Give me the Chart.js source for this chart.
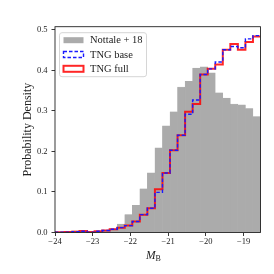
<!DOCTYPE html>
<html>
<head>
<meta charset="utf-8">
<script src="https://cdn.jsdelivr.net/npm/chart.js@4.4.1/dist/chart.umd.min.js"></script>
<style>
  html, body { margin: 0; padding: 0; background: #fff; }
  #wrap { width: 274px; height: 274px; }
</style>
</head>
<body>
<div id="wrap"><canvas id="histChart"></canvas></div>
<script>
// histogram bins (absolute B magnitude)
const binStart = -24.15;
const binWidth = 0.2;

const nottale = [0.001, 0.001, 0.002, 0.004, 0.003, 0.001, 0.003, 0.006, 0.009,
  0.021, 0.044, 0.067, 0.108, 0.147, 0.209,
  0.263, 0.298, 0.359, 0.373, 0.406, 0.409, 0.394, 0.345, 0.332, 0.317, 0.315, 0.306, 0.286];

const tngBase = [0.0005, 0.0005, 0.001, 0.002, 0.003, 0.001, 0.003, 0.005, 0.008,
  0.012, 0.017, 0.027, 0.044, 0.060, 0.099, 0.147, 0.203, 0.240,
  0.292, 0.327, 0.390, 0.404, 0.421, 0.451, 0.459, 0.456, 0.478, 0.486];

const tngFull = [0.0005, 0.0005, 0.001, 0.002, 0.004, 0.001, 0.003, 0.005, 0.008,
  0.012, 0.017, 0.027, 0.044, 0.060, 0.107, 0.147, 0.203, 0.240,
  0.298, 0.317, 0.390, 0.404, 0.415, 0.451, 0.465, 0.451, 0.470, 0.484];

const xTicks = [-24, -23, -22, -21, -20, -19];
const yTicks = [0.0, 0.1, 0.2, 0.3, 0.4, 0.5];

const serif = "'Liberation Serif', 'DejaVu Serif', serif";

// corner points of a step outline for the line histograms
function stepPoints(values) {
  const pts = [{ x: binStart, y: 0 }];
  values.forEach((v, i) => {
    const x0 = binStart + i * binWidth;
    pts.push({ x: x0, y: v }, { x: x0 + binWidth, y: v });
  });
  pts.push({ x: binStart + values.length * binWidth, y: 0 });
  return pts;
}

// bin centres for the filled histogram
function barPoints(values) {
  return values.map((v, i) => ({ x: binStart + (i + 0.5) * binWidth, y: v }));
}

const framePlugin = {
  id: "frame",
  afterDatasetsDraw(chart) {
    const { ctx, chartArea: a } = chart;
    ctx.save();
    ctx.strokeStyle = "#222";
    ctx.lineWidth = 0.9;
    ctx.strokeRect(a.left, a.top, a.right - a.left, a.bottom - a.top);
    ctx.restore();
  },
};

const legendPlugin = {
  id: "boxLegend",
  afterDatasetsDraw(chart) {
    const { ctx, chartArea: a } = chart;
    const x = a.left + 4.5, y = a.top + 6, w = 87, h = 44;
    ctx.save();
    ctx.beginPath();
    ctx.roundRect(x, y, w, h, 2.5);
    ctx.fillStyle = "rgba(255,255,255,0.85)";
    ctx.fill();
    ctx.strokeStyle = "#d6d6d6";
    ctx.lineWidth = 1;
    ctx.stroke();

    ctx.font = "10.5px " + serif;
    ctx.textBaseline = "middle";
    ctx.fillStyle = "#222";
    chart.data.datasets.forEach((ds, i) => {
      const cy = y + 7.5 + i * 14.3;
      const px = x + 4, pw = 20, ph = 6;
      ctx.save();
      if (ds.type === "bar") {
        ctx.fillStyle = ds.backgroundColor;
        ctx.fillRect(px, cy - ph / 2, pw, ph);
      } else {
        ctx.strokeStyle = ds.borderColor;
        ctx.lineWidth = ds.borderWidth;
        ctx.setLineDash(ds.borderDash || []);
        ctx.strokeRect(px, cy - ph / 2, pw, ph);
      }
      ctx.restore();
      ctx.fillText(ds.label, x + 30.5, cy + 0.5);
    });
    ctx.restore();
  },
};

const xLabelPlugin = {
  id: "xLabel",
  afterDraw(chart) {
    const { ctx } = chart;
    ctx.save();
    ctx.fillStyle = "#222";
    ctx.textBaseline = "alphabetic";
    ctx.font = "italic 11.5px " + serif;
    const mw = ctx.measureText("M").width;
    ctx.font = "8px " + serif;
    const bw = ctx.measureText("B").width;
    const x0 = 153.5 - (mw + bw) / 2;
    ctx.font = "italic 11.5px " + serif;
    ctx.fillText("M", x0, 259);
    ctx.font = "8px " + serif;
    ctx.fillText("B", x0 + mw, 261);
    ctx.restore();
  },
};

new Chart(document.getElementById("histChart"), {
  type: "line",
  data: {
    datasets: [
      {
        type: "bar",
        label: "Nottale + 18",
        data: barPoints(nottale),
        backgroundColor: "#ababab",
        borderColor: "#ababab",
        borderWidth: 0.4,
        borderSkipped: "bottom",
        barPercentage: 1,
        categoryPercentage: 1,
        order: 3,
      },
      {
        label: "TNG base",
        data: stepPoints(tngBase),
        borderColor: "#1a1aff",
        borderWidth: 1.4,
        borderDash: [3.5, 2],
        fill: false,
        pointRadius: 0,
        order: 1,
      },
      {
        label: "TNG full",
        data: stepPoints(tngFull),
        borderColor: "rgba(255,0,0,0.85)",
        borderWidth: 2,
        fill: false,
        pointRadius: 0,
        order: 2,
      },
    ],
  },
  options: {
    responsive: true,
    maintainAspectRatio: false,
    animation: false,
    layout: { padding: { left: 0, right: 13.5, top: 26.7, bottom: 0 } },
    plugins: {
      legend: { display: false },
      tooltip: { enabled: false },
    },
    scales: {
      x: {
        type: "linear",
        min: -24,
        max: -18.55,
        offset: false,
        afterBuildTicks: (scale) => { scale.ticks = xTicks.map((v) => ({ value: v })); },
        afterFit: (scale) => { scale.height = 41.5; },
        border: { display: false },
        grid: { drawOnChartArea: false, drawTicks: true, tickLength: 3.5, color: "#222", lineWidth: 0.9, offset: false },
        ticks: {
          padding: 1,
          maxRotation: 0,
          color: "#222",
          font: { family: serif, size: 8.5 },
          callback: (v) => (v < 0 ? "\u2212" + Math.abs(v) : String(v)),
        },
      },
      y: {
        min: 0,
        max: 0.508,
        afterBuildTicks: (scale) => { scale.ticks = yTicks.map((v) => ({ value: v })); },
        afterFit: (scale) => { scale.width = 55; },
        border: { display: false },
        grid: { drawOnChartArea: false, drawTicks: true, tickLength: 3.5, color: "#222", lineWidth: 0.9 },
        ticks: {
          padding: 4,
          color: "#222",
          font: { family: serif, size: 8.5 },
          callback: (v) => v.toFixed(1),
        },
        title: {
          display: true,
          text: "Probability Density",
          color: "#222",
          font: { family: serif, size: 12 },
          padding: { top: 20.8, bottom: 0 },
        },
      },
    },
  },
  plugins: [framePlugin, legendPlugin, xLabelPlugin],
});
</script>
</body>
</html>
